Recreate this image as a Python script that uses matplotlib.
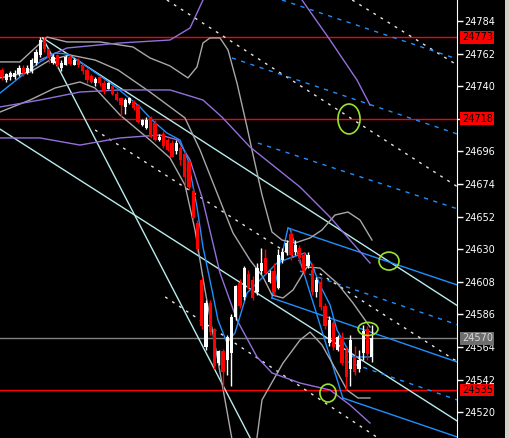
import numpy as np
import matplotlib
matplotlib.use('Agg')
import matplotlib.pyplot as plt
from matplotlib.patches import Ellipse, Rectangle

# candles (bar index 0..87)
opens = [24751, 24744, 24746, 24746, 24748, 24752, 24749, 24750, 24756, 24761,
         24771, 24765, 24756, 24761, 24752, 24754, 24760, 24754, 24758, 24754,
         24751, 24747, 24742, 24746, 24742, 24738, 24740, 24735, 24732, 24726,
         24729, 24730, 24727, 24714, 24712, 24719, 24715, 24704, 24708, 24704,
         24702, 24696, 24698, 24694, 24689, 24669, 24648, 24609, 24564, 24594,
         24576, 24553, 24561, 24555, 24560, 24584, 24607, 24598, 24613, 24609,
         24601, 24615, 24624, 24608, 24615, 24604, 24623, 24628, 24640, 24628,
         24631, 24626, 24619, 24616, 24601, 24608, 24592, 24567, 24580, 24562,
         24571, 24562, 24549, 24557, 24549, 24560, 24576, 24557]
highs = [24752, 24749, 24750, 24751, 24754, 24754, 24754, 24759, 24765, 24773,
         24773, 24766, 24762, 24762, 24758, 24761, 24761, 24759, 24759, 24756,
         24752, 24748, 24746, 24747, 24744, 24743, 24741, 24737, 24733, 24732,
         24733, 24731, 24728, 24718, 24719, 24720, 24717, 24708, 24710, 24705,
         24704, 24704, 24700, 24696, 24690, 24671, 24650, 24611, 24596, 24596,
         24577, 24562, 24563, 24572, 24586, 24606, 24610, 24619, 24616, 24612,
         24621, 24631, 24630, 24616, 24621, 24630, 24631, 24636, 24644, 24636,
         24633, 24628, 24628, 24621, 24611, 24611, 24594, 24585, 24582, 24572,
         24574, 24564, 24572, 24565, 24562, 24579, 24578, 24579]
lows = [24744, 24743, 24744, 24745, 24747, 24747, 24748, 24749, 24754, 24760,
        24763, 24756, 24755, 24752, 24750, 24754, 24754, 24754, 24753, 24748,
        24742, 24742, 24740, 24740, 24735, 24738, 24734, 24730, 24719, 24721,
        24728, 24724, 24715, 24713, 24711, 24705, 24703, 24703, 24698, 24696,
        24692, 24694, 24687, 24673, 24670, 24650, 24628, 24576, 24562, 24572,
        24549, 24552, 24535, 24545, 24538, 24582, 24590, 24596, 24603, 24596,
        24599, 24613, 24613, 24607, 24599, 24603, 24621, 24626, 24623, 24626,
        24621, 24613, 24617, 24599, 24598, 24589, 24576, 24565, 24562, 24561,
        24552, 24535, 24538, 24545, 24547, 24555, 24555, 24554]
closes = [24746, 24748, 24749, 24749, 24752, 24749, 24752, 24758, 24763, 24771,
          24765, 24759, 24760, 24754, 24756, 24760, 24755, 24758, 24754, 24750,
          24744, 24743, 24745, 24742, 24737, 24742, 24735, 24731, 24727, 24731,
          24732, 24725, 24716, 24717, 24717, 24706, 24704, 24706, 24700, 24697,
          24692, 24702, 24690, 24679, 24672, 24651, 24630, 24578, 24594, 24574,
          24551, 24561, 24547, 24571, 24584, 24605, 24592, 24617, 24604, 24597,
          24617, 24621, 24614, 24614, 24601, 24626, 24628, 24634, 24626, 24633,
          24624, 24615, 24626, 24601, 24609, 24591, 24578, 24582, 24564, 24571,
          24553, 24544, 24569, 24547, 24555, 24575, 24559, 24570]

# price levels marked on the axis
red_levels = [24773, 24718, 24535]
last_price = 24570
tick_values = [24784, 24762, 24740, 24718, 24696, 24674, 24652, 24630, 24608,
               24586, 24564, 24542, 24520]

# moving average / band curves: (bar, price)
fast_ma = [(-0.47, 24735.4), (4.24, 24746.2), (8.94, 24756.4), (12.47, 24762.4),
           (15.29, 24761.8), (18.35, 24756.4), (23.76, 24745.6), (27.06, 24738.8),
           (32.47, 24726.0), (35.29, 24717.2), (38.82, 24708.4), (41.88, 24703.7),
           (43.76, 24690.2), (45.88, 24658.5), (47.29, 24631.5), (49.41, 24602.5),
           (50.82, 24582.2), (52.94, 24566.7), (54.82, 24573.5), (57.65, 24600.5),
           (60.71, 24609.2), (64.71, 24620.7), (67.76, 24624.1), (71.29, 24627.5),
           (72.94, 24619.4), (74.82, 24605.9), (77.18, 24592.4), (78.82, 24575.5),
           (81.18, 24563.3), (82.59, 24557.3), (86.59, 24557.3)]
purple_up_a = [(8.94, 24757.7), (15.29, 24765.8), (27.76, 24769.2), (39.53, 24771.2),
               (44.24, 24779.3), (47.29, 24798.2), (48.2, 24805.0)]
purple_up_b = [(69.6, 24805.0), (70.59, 24798.2), (77.18, 24771.2), (83.53, 24744.2),
               (86.59, 24727.3)]
purple_mid = [(-0.47, 24726.0), (8.94, 24730.7), (18.35, 24736.1), (27.76, 24737.5),
              (39.53, 24737.5), (47.29, 24730.7), (51.76, 24719.2), (58.35, 24699.0),
              (70.12, 24672.0), (77.18, 24651.7), (81.88, 24636.2), (86.59, 24620.7)]
purple_low = [(-0.47, 24705.1), (8.94, 24705.1), (18.35, 24700.3), (27.76, 24705.1),
              (37.18, 24707.1), (41.41, 24703.7), (44.24, 24690.2), (47.06, 24665.2),
              (51.29, 24614.0), (55.29, 24582.2), (60.0, 24557.3), (63.53, 24546.5),
              (70.12, 24539.7), (77.18, 24535.0), (81.88, 24524.9), (86.59, 24512.7)]
gray_up = [(-0.47, 24756.4), (4.24, 24756.4), (7.76, 24765.8), (10.59, 24773.2),
           (15.29, 24769.9), (23.06, 24769.9), (30.82, 24766.5), (34.82, 24759.1),
           (39.53, 24753.7), (43.76, 24745.6), (45.88, 24753.0), (47.29, 24769.2),
           (48.94, 24772.6), (51.29, 24772.6), (53.18, 24764.5), (55.29, 24742.2),
           (57.65, 24712.5), (58.82, 24697.0), (61.18, 24666.6), (63.53, 24641.6),
           (65.88, 24636.2), (68.94, 24634.2), (72.47, 24637.6), (75.29, 24643.0),
           (78.35, 24653.1), (81.41, 24655.1), (84.24, 24649.7), (87.06, 24636.2)]
gray_mid = [(-0.47, 24745.6), (6.59, 24749.6), (11.29, 24757.7), (16.0, 24761.1),
            (21.88, 24757.7), (27.29, 24751.0), (34.82, 24736.1), (43.06, 24718.6),
            (46.59, 24697.0), (50.59, 24668.0), (54.35, 24641.0), (58.35, 24622.7),
            (61.41, 24611.3), (63.53, 24599.1), (66.12, 24597.1), (68.47, 24602.5),
            (71.76, 24618.0), (74.82, 24617.3), (78.82, 24607.2), (82.59, 24593.7),
            (86.59, 24577.5)]
gray_low = [(-0.47, 24722.6), (6.59, 24730.7), (12.47, 24738.8), (18.35, 24742.9),
            (21.88, 24738.8), (27.76, 24720.6), (34.82, 24703.7), (39.53, 24691.6),
            (43.06, 24673.3), (45.41, 24643.0), (47.76, 24602.5), (50.12, 24565.4),
            (52.47, 24528.3), (54.35, 24497.9), (57.18, 24481.0), (59.76, 24497.9),
            (61.18, 24528.3), (66.12, 24553.2), (70.12, 24568.7), (72.47, 24574.1),
            (75.29, 24565.4), (78.35, 24549.8), (81.18, 24535.0), (83.76, 24529.6),
            (86.59, 24529.6)]

# straight trend lines: (bar0, price0, bar1, price1)
cyan_lines = [(9.6, 24772.6, 58.4, 24502.6),
              (-0.5, 24711.1, 107.1, 24514.1),
              (9.6, 24772.6, 107.1, 24592.0)]
white_dashed = [(21.9, 24710.5, 107.1, 24554.2),
                (38.8, 24798.2, 107.1, 24672.3),
                (82.4, 24798.2, 107.1, 24754.3),
                (38.4, 24597.8, 88.5, 24502.6)]
blue_dashed = [(65.9, 24798.2, 107.1, 24758.4),
               (54.1, 24759.1, 107.1, 24707.8),
               (60.2, 24701.7, 107.1, 24657.3),
               (70.1, 24615.3, 107.1, 24579.1),
               (80.7, 24554.6, 107.1, 24528.3)]
blue_solid = [(67.3, 24644.3, 107.1, 24605.9),
              (63.5, 24597.1, 107.1, 24553.9),
              (67.3, 24644.3, 63.5, 24597.1),
              (67.8, 24643.6, 80.2, 24529.6),
              (80.2, 24529.6, 107.1, 24503.3)]

# marker ellipses: (bar, price, width in bars, height in points)
circles = [(81.65, 24717.9, 5.2, 20.2), (91.06, 24622.0, 4.7, 12.1),
           (86.12, 24576.2, 4.7, 8.8), (76.71, 24532.9, 3.8, 12.1)]

fig = plt.figure(figsize=(5.10, 4.38), dpi=100, facecolor='black')
ax = fig.add_axes([0, 0, 457 / 510, 1])
ax.set_facecolor('black')
ax.set_xlim(-0.47, 107.06)
ax.set_ylim(24502.6, 24798.2)

for lv in red_levels:
    ax.axhline(lv, color='#ff0000', lw=1, zorder=2)
ax.axhline(last_price, color='#808080', lw=1, zorder=2)

def curve(pts, color, lw=1.0, ls='-'):
    xs = [p[0] for p in pts]
    ys = [p[1] for p in pts]
    ax.plot(xs, ys, color=color, lw=lw, ls=ls, zorder=3)

for ln in cyan_lines:
    ax.plot([ln[0], ln[2]], [ln[1], ln[3]], color='#b8ecec', lw=1, zorder=3)
for ln in white_dashed:
    ax.plot([ln[0], ln[2]], [ln[1], ln[3]], color='#e6e6e6', lw=1, ls=(0, (2, 4)), zorder=3)
for ln in blue_dashed:
    ax.plot([ln[0], ln[2]], [ln[1], ln[3]], color='#1e90ff', lw=1, ls=(0, (3, 4)), zorder=3)
for ln in blue_solid:
    ax.plot([ln[0], ln[2]], [ln[1], ln[3]], color='#1e90ff', lw=1, zorder=3)

curve(gray_up, '#a8a8a8')
curve(gray_mid, '#a8a8a8')
curve(gray_low, '#a8a8a8')
curve(purple_up_a, '#9370db')
curve(purple_up_b, '#9370db')
curve(purple_mid, '#9370db')
curve(purple_low, '#9370db')
curve(fast_ma, '#1e90ff')

# candles
for i in range(len(opens)):
    o, h, l, c = opens[i], highs[i], lows[i], closes[i]
    col = 'white' if c >= o else '#ff0000'
    ax.vlines(i, l, h, color=col, lw=1, zorder=4)
    ax.bar(i, max(abs(c - o), 0.6), bottom=min(o, c), width=0.75, color=col,
           lw=0, zorder=5)

for cx, cy, w, h in circles:
    ax.add_patch(Ellipse((cx, cy), w, h, fill=False, ec='#9be22d', lw=1.2, zorder=6))

ax.set_xticks([])
ax.yaxis.tick_right()
ax.set_yticks(tick_values)
# the 24718 level is covered by its red marker box, so its plain label is left blank
ax.set_yticklabels(['' if v in red_levels else str(v) for v in tick_values])
ax.tick_params(axis='y', colors='white', length=4, width=1, pad=1, labelsize=7)
for s in ['top', 'bottom', 'left']:
    ax.spines[s].set_visible(False)
ax.spines['right'].set_color('white')

for lv in red_levels:
    ax.annotate(str(lv), xy=(1, lv), xycoords=('axes fraction', 'data'),
                xytext=(3.5, 0), textcoords='offset points', va='center', ha='left',
                fontsize=7, color='black',
                bbox=dict(boxstyle='square,pad=0.15', fc='#ff0000', ec='none'), zorder=10,
                annotation_clip=False)
ax.annotate(str(last_price), xy=(1, last_price), xycoords=('axes fraction', 'data'),
            xytext=(3.5, 0), textcoords='offset points', va='center', ha='left',
            fontsize=7, color='#d8d8d8',
            bbox=dict(boxstyle='square,pad=0.15', fc='#6e6e6e', ec='none'), zorder=10,
            annotation_clip=False)

fig.patches.append(Rectangle((505 / 510, 0), 5 / 510, 1, transform=fig.transFigure,
                             fc='#d4d0c8', ec='none'))

plt.savefig('out.png', dpi=100, facecolor='black')
plt.close()
